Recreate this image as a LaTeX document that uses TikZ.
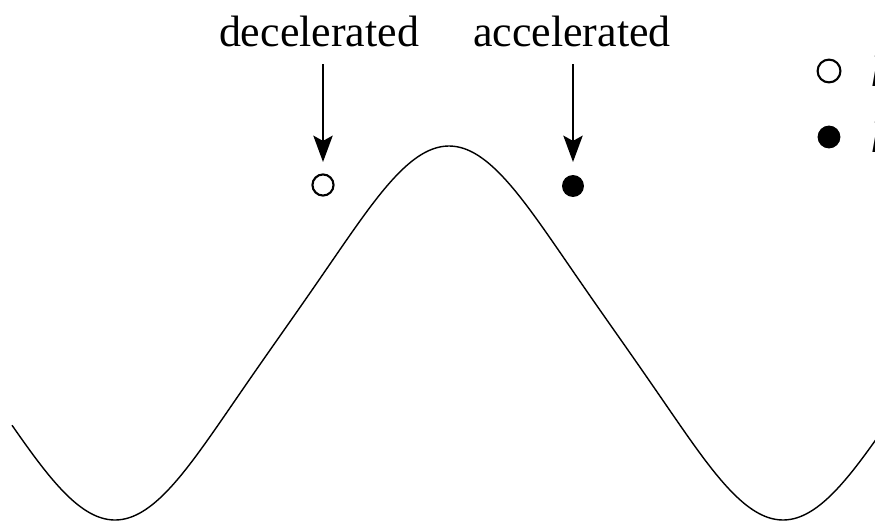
\documentclass[tikz,border=0pt]{standalone}
\usepackage{fontspec}
\setmainfont{Liberation Serif}
\usetikzlibrary{arrows.meta}
\tikzset{
  lbl/.style={inner sep=0pt, font=\fontsize{25}{29}\selectfont},
  pointer/.style={line width=1.1pt, -{Stealth[length=15pt,width=11pt,inset=3pt]}},
  opendot/.style={circle, draw, line width=1.2pt, minimum size=12pt, inner sep=0pt},
  fulldot/.style={circle, fill, minimum size=12.5pt, inner sep=0pt},
  wave/.style={line width=0.8pt}
}
\begin{document}
\begin{tikzpicture}[x=0.02cm, y=-0.02cm]
\useasboundingbox (0,0) rectangle (875,524);
\clip (0,0) rectangle (875,524);
% labels
\node[lbl] (dec) at (319,31) {decelerated};
\node[lbl] (acc) at (572,31) {accelerated};
% arrows
\coordinate (d1) at (323,64);
\coordinate (d2) at (323,162);
\coordinate (a1) at (573,64);
\coordinate (a2) at (573,162);
\draw[pointer] (d1) -- (d2);
\draw[pointer] (a1) -- (a2);
% dots
\node[opendot] (o1) at (323,185) {};
\node[fulldot] (f1) at (573,186) {};
% legend (cut off)
\node[opendot, minimum size=13pt] (lo) at (829,71) {};
\node[fulldot, minimum size=13pt] (lf) at (829,137) {};
\node[lbl, anchor=west] (lot) at (870,71) {\itshape l};
\node[lbl, anchor=west] (lft) at (870,137) {\itshape l};
% wave
\draw[wave] plot[domain=12:878, samples=300, smooth]
  (\x, {333-187*(cos((\x-449)/668*360)+0.05*cos(3*(\x-449)/668*360))/1.05});
\end{tikzpicture}
\end{document}
